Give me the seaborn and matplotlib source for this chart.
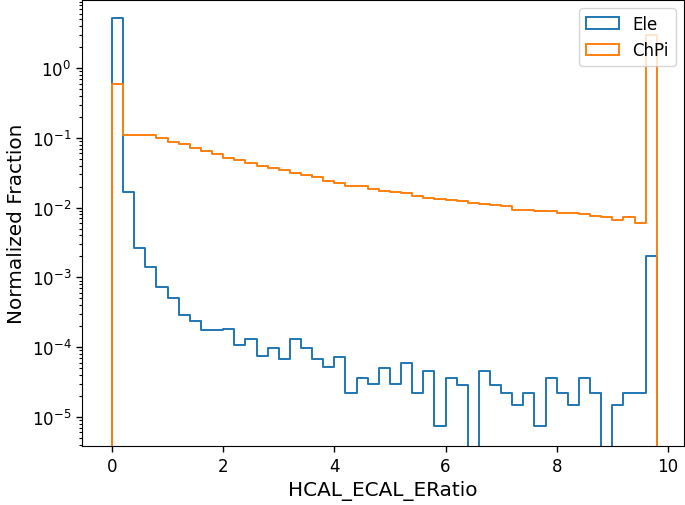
import numpy as np
import pandas as pd
import matplotlib
matplotlib.use('Agg')
import matplotlib.pyplot as plt
from matplotlib.patches import Patch
import seaborn as sns

# ---- data (density per 0.2-wide bin, 0 .. 9.8) ----
bin_edges = np.round(np.arange(0.0, 9.81, 0.2), 2)

ele_frac = [5.2, 0.0169, 2.68e-3, 1.42e-3, 7.3e-4, 5.07e-4, 2.86e-4, 2.34e-4,
            1.76e-4, 1.76e-4, 1.82e-4, 1.06e-4, 1.32e-4, 7.4e-5, 9.7e-5, 6.8e-5,
            1.32e-4, 9.7e-5, 6.8e-5, 5.2e-5, 7.2e-5, 2.2e-5, 3.6e-5, 3.0e-5,
            5.1e-5, 3.0e-5, 6.0e-5, 2.2e-5, 4.5e-5, 7.5e-6, 3.6e-5, 2.9e-5,
            0.0, 4.5e-5, 2.9e-5, 2.2e-5, 1.5e-5, 2.2e-5, 7.5e-6, 3.6e-5,
            2.2e-5, 1.5e-5, 3.6e-5, 2.2e-5, 0.0, 1.5e-5, 2.2e-5, 2.2e-5,
            2.06e-3]

chpi_frac = [0.595, 0.110, 0.110, 0.110, 0.101, 0.0885, 0.0818, 0.0725,
             0.0656, 0.0594, 0.0521, 0.0488, 0.0442, 0.0400, 0.0366, 0.0346,
             0.0317, 0.0293, 0.0275, 0.0243, 0.0223, 0.0206, 0.0206, 0.0183,
             0.0175, 0.0169, 0.0163, 0.0145, 0.0139, 0.0133, 0.0128, 0.0124,
             0.0117, 0.0113, 0.0109, 0.0105, 0.0092, 0.0092, 0.0089, 0.0089,
             0.0084, 0.0084, 0.0081, 0.0076, 0.0073, 0.0067, 0.0073, 0.0061,
             3.0]

labels = ['Ele', 'ChPi']
colors = ['#1f77b4', '#ff7f0e']

# ---- plot ----
centers = (bin_edges[:-1] + bin_edges[1:]) / 2
# one empty bin on each side so the step outline drops to the floor at both ends
edges_pad = [float(bin_edges[0] - 0.2)] + [float(e) for e in bin_edges] + [float(bin_edges[-1] + 0.2)]

fig = plt.figure(figsize=(6.85, 5.06), dpi=100)
ax = fig.add_axes([82 / 685, 59 / 506, 602 / 685, 446 / 506])

for lab, vals, col in zip(labels, [ele_frac, chpi_frac], colors):
    df = pd.DataFrame({'x': centers, 'w': vals})
    sns.histplot(data=df, x='x', weights='w', bins=edges_pad, stat='count',
                 element='step', fill=False, color=col, linewidth=1.4, ax=ax)

ax.set_yscale('log')
ax.set_xlim(-0.54, 10.29)
ax.set_ylim(3.83e-6, 9.5)

ax.set_xlabel('HCAL_ECAL_ERatio', fontsize=14.4)
ax.set_ylabel('Normalized Fraction', fontsize=14.4)
ax.tick_params(axis='both', which='major', labelsize=12, length=4.2, width=1.0)
ax.tick_params(axis='both', which='minor', length=2.4, width=0.8)

handles = [Patch(facecolor='none', edgecolor=c, linewidth=1.4, label=l)
           for l, c in zip(labels, colors)]
ax.legend(handles=handles, loc='upper right', fontsize=12)

plt.savefig('out.png', dpi=100)
